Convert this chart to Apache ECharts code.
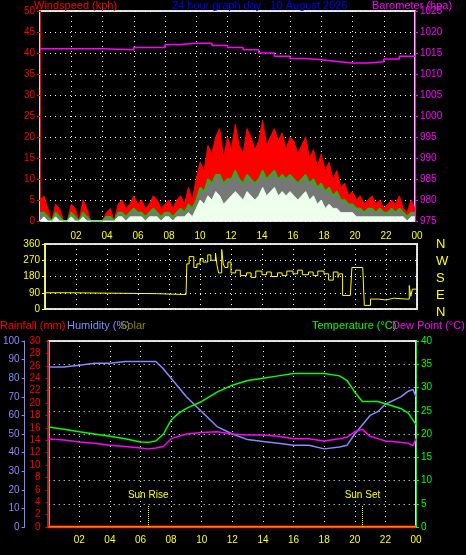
<!DOCTYPE html><html><head><meta charset="utf-8">
<script src="https://cdn.jsdelivr.net/npm/echarts@6/dist/echarts.min.js"></script>
<style>html,body{margin:0;background:#000}#c{width:466px;height:555px}</style></head><body><div id="c"></div>
<script>
const hours=[0,0.25,0.5,0.75,1,1.25,1.5,1.75,2,2.25,2.5,2.75,3,3.25,3.5,3.75,4,4.25,4.5,4.75,5,5.25,5.5,5.75,6,6.25,6.5,6.75,7,7.25,7.5,7.75,8,8.25,8.5,8.75,9,9.25,9.5,9.75,10,10.25,10.5,10.75,11,11.25,11.5,11.75,12,12.25,12.5,12.75,13,13.25,13.5,13.75,14,14.25,14.5,14.75,15,15.25,15.5,15.75,16,16.25,16.5,16.75,17,17.25,17.5,17.75,18,18.25,18.5,18.75,19,19.25,19.5,19.75,20,20.25,20.5,20.75,21,21.25,21.5,21.75,22,22.25,22.5,22.75,23,23.25,23.5,23.75,24];
const windGust=[5,6,3,0,4,3,0,0,4,3,0,5,3,0,0,0,0,2,3,0,4,5,3,4,6,4,5,3,4,6,5,3,4,5,3,5,6,4,8,5,10,14,12,18,16,20,22,15,20,17,23,18,16,22,20,17,19,24,18,20,22,19,21,17,20,19,16,18,20,15,17,13,16,12,14,10,12,8,9,6,7,5,6,4,5,6,4,5,3,4,5,4,6,3,2,5,3,6,18];
const windAvg=[2,2,1,0,2,1,0,0,2,1,0,2,1,0,0,0,0,1,1,0,2,2,1,2,3,2,2,1,2,3,2,1,2,2,1,2,3,2,4,3,5,8,7,10,9,11,11,9,10,10,12,10,9,11,10,9,10,12,10,11,12,10,11,10,11,10,9,10,11,9,10,8,9,7,8,6,7,5,5,4,4,3,3,2,3,3,2,3,2,2,3,2,3,2,1,2,2,3,8];
const windLow=[0,1,0,0,1,0,0,0,1,0,0,1,0,0,0,0,0,0,0,0,1,1,0,1,1,1,1,0,1,1,1,0,1,1,0,1,1,1,2,1,3,5,4,6,5,7,6,4,5,6,7,6,5,7,6,5,6,8,6,7,8,6,7,6,7,6,5,6,7,5,6,4,5,3,4,3,3,2,2,2,2,1,1,1,1,1,1,1,1,1,1,1,1,1,0,1,1,1,3];
const baroH=[0,2,4,6,8,9,10,11,12,13,14,15,16,17,18,19,20,21,22,23,24];
const baro=[1016,1016,1015.8,1016.3,1017,1017.3,1017.3,1016.8,1016.3,1015.8,1015,1014.2,1013.7,1013.4,1013,1012.6,1012.6,1012.9,1013.6,1014.2,1014.4];
const dirH=[0,1.5,1.51,7.2,7.21,9.1,9.15,9.3,9.6,9.8,10,10.2,10.5,10.7,11,11.1,11.2,11.4,11.5,11.6,11.8,12,12.3,12.6,13,13.3,13.6,14,14.3,14.6,15,15.3,15.6,16,16.3,16.6,17,17.3,17.6,18,18.3,18.6,18.9,19,19.2,19.7,19.8,20.5,20.6,21,21.5,22,22.5,23.3,23.5,23.6,23.7,24];
const dirV=[90,90,85,85,80,80,250,290,230,250,280,260,300,270,310,240,200,330,250,230,260,200,215,185,200,175,210,190,205,180,200,185,210,195,215,190,205,185,210,195,160,205,175,195,75,75,230,230,20,55,50,60,55,55,130,70,110,120];
const envH=[0,1,2,3,4,5,6,6.5,7,7.5,8,8.5,9,10,11,12,13,14,15,16,17,18,19,19.5,20,20.5,21,21.5,22,23,23.5,23.8,24];
const humidity=[86,86,87,88,88,89,89,89,89,85,80,75,70,62,54,50,47,46,45,44,44,42,43,44,50,55,60,62,66,70,73,74,70];
const temperature=[21.5,21,20.5,20,19.5,19,18.3,18.2,18.5,20,23,24.5,25.5,27,29,30.5,31.5,32,32.5,33,33,33,32.5,31.5,29,27,27,27,26.5,25.5,24.5,23,22];
const dewPoint=[18.9,18.7,18.3,18,17.6,17.3,17,16.8,17,17.3,19,19.5,20,20.3,20.5,20,19.8,19.8,19.5,19,19,18.5,19,19.3,20.5,21,19.5,19,18.5,18.2,18,17.5,19];
const rainfall=[0,0];const rainH=[0,24];
const compass=['N','W','S','E','N'];
const z=(a,b)=>a.map((x,i)=>[x,b[i]]);
const c=echarts.init(document.getElementById('c'));
const F='Liberation Sans';
const fmt=v=>v===0?'':String(v%24).padStart(2,'0');
const dot={show:true,lineStyle:{color:'#fff',type:[1,4]}};
const xa=(gi,show)=>({type:'value',gridIndex:gi,min:0,max:24,interval:2,axisLine:{show:false},axisTick:{show:false},
 splitLine:dot,axisLabel:{show:show,color:'#ff0',fontFamily:F,fontSize:10,formatter:fmt}});
const ya=(gi,c0,o)=>Object.assign({type:'value',gridIndex:gi,splitLine:{show:false},
 axisLine:{show:true,lineStyle:{color:c0,width:1}},axisTick:{show:true,length:3,lineStyle:{color:c0}},
 axisLabel:{color:c0,fontFamily:F,fontSize:10,margin:5,formatter:v=>String(v)}},o);
c.setOption({backgroundColor:'#000',animation:false,
grid:[{left:40,top:11,right:51,height:210,show:true,borderColor:'#ddd',borderWidth:2},
 {left:45,top:244,right:49,height:65,show:true,borderColor:'#ddd',borderWidth:2},
 {left:43,top:341,right:50,height:186,show:true,borderColor:'#ddd',borderWidth:2}],
xAxis:[xa(0,false),Object.assign(xa(1,true),{position:'top',axisLabel:{color:'#ff0',fontFamily:F,fontSize:10,margin:3,formatter:fmt}}),xa(2,true)],
yAxis:[
 ya(0,'#f00',{min:0,max:50,interval:5,splitLine:dot}),
 ya(0,'#f0f',{min:975,max:1025,interval:5,position:'right'}),
 ya(1,'#ff0',{min:0,max:360,interval:90,splitLine:dot}),
 ya(2,'#f00',{min:0,max:30,interval:2,position:'left',offset:3}),
 ya(2,'#88f',{min:0,max:100,interval:10,position:'left',offset:24}),
 ya(2,'#0f0',{min:0,max:40,interval:5,position:'right',splitLine:dot})
],
series:[
 {type:'line',xAxisIndex:0,yAxisIndex:0,symbol:'none',data:z(hours,windGust),lineStyle:{color:'#f00',width:1},areaStyle:{color:'#f00',opacity:1}},
 {type:'line',xAxisIndex:0,yAxisIndex:0,symbol:'none',data:z(hours,windAvg),lineStyle:{color:'#0c0',width:1.5},areaStyle:{color:'#777',opacity:1}},
 {type:'line',xAxisIndex:0,yAxisIndex:0,symbol:'none',data:z(hours,windLow),lineStyle:{color:'#dfd',width:1},areaStyle:{color:'#efe',opacity:1}},
 {type:'line',xAxisIndex:0,yAxisIndex:1,step:'end',symbol:'none',data:z(baroH,baro),lineStyle:{color:'#f0f',width:1.5}},
 {type:'line',xAxisIndex:1,yAxisIndex:2,step:'end',symbol:'none',data:z(dirH,dirV),lineStyle:{color:'#ff0',width:1}},
 {type:'line',xAxisIndex:2,yAxisIndex:3,symbol:'none',data:z(rainH,rainfall),lineStyle:{color:'#f00',width:3},
  markLine:{symbol:'none',silent:true,lineStyle:{color:'#ff0',type:'dotted',width:1},label:{show:true,position:'end',color:'#ff0',fontFamily:F,fontSize:10},
   data:[[{coord:[6.5,0],name:'Sun Rise'},{coord:[6.5,3.5]}],[{coord:[20.5,0],name:'Sun Set'},{coord:[20.5,3.5]}]]}},
 {type:'line',xAxisIndex:2,yAxisIndex:3,symbol:'none',data:z(rainH,rainfall),lineStyle:{color:'#ff0',width:1}},
 {type:'line',xAxisIndex:2,yAxisIndex:4,symbol:'none',data:z(envH,humidity),lineStyle:{color:'#88f',width:1.5}},
 {type:'line',xAxisIndex:2,yAxisIndex:5,symbol:'none',data:z(envH,temperature),lineStyle:{color:'#0f0',width:1.5}},
 {type:'line',xAxisIndex:2,yAxisIndex:5,symbol:'none',data:z(envH,dewPoint),lineStyle:{color:'#f0f',width:1.5}}
],
graphic:[
 {type:'text',left:34,top:0,style:{text:'Windspeed (kph)',fill:'#f00',font:'11px '+F}},
 {type:'text',left:172,top:0,style:{text:'24 hour graph day : 10 August 2026',fill:'#00f',font:'11px '+F}},
 {type:'text',left:372,top:0,style:{text:'Barometer (hpa)',fill:'#f0f',font:'11px '+F}},
 {type:'text',left:0,top:320,style:{text:'Rainfall (mm)',fill:'#f00',font:'11px '+F}},
 {type:'text',left:67,top:320,style:{text:'Humidity (%)',fill:'#88f',font:'11px '+F}},
 {type:'text',left:120,top:320,style:{text:'Solar',fill:'#880',font:'11px '+F}},
 {type:'text',left:312,top:320,style:{text:'Temperature (°C)',fill:'#0f0',font:'11px '+F}},
 {type:'text',left:392,top:320,style:{text:'Dew Point (°C)',fill:'#f0f',font:'11px '+F}},
 ...compass.map((t,i)=>({type:'text',left:436,top:238+i*17,style:{text:t,fill:'#ff0',font:'13px '+F}}))
]});
</script></body></html>
